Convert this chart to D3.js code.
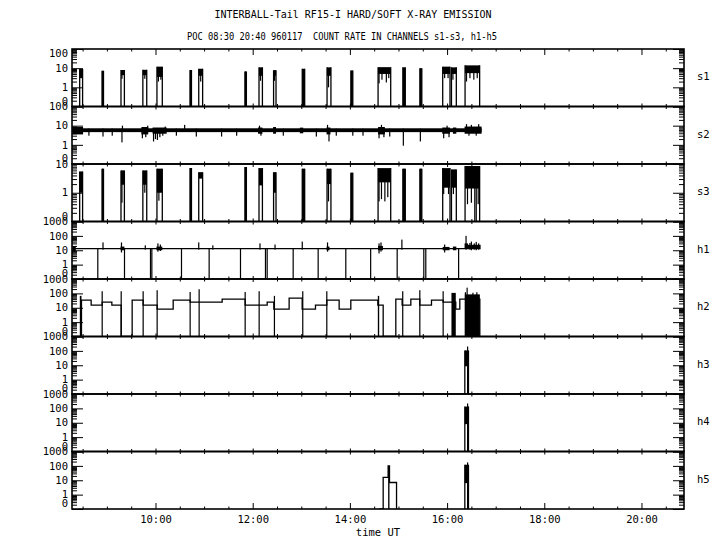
<!DOCTYPE html>
<html>
<head>
<meta charset="utf-8">
<script src="https://cdn.jsdelivr.net/npm/d3@7"></script>
<style>
body { margin: 0; background: #fff; }
text { font-family: "DejaVu Sans Mono", "Liberation Mono", monospace; fill: #000; }
</style>
</head>
<body>
<svg id="chart"></svg>
<script>
var panelNames = ["s1", "s2", "s3", "h1", "h2", "h3", "h4", "h5"];
var panelTops = [100, 100, 10, 1000, 1000, 1000, 1000, 1000];
var xDomain = [8.282, 20.875];
var majorHours = [10, 12, 14, 16, 18, 20];
var majorLabels = ["10:00", "12:00", "14:00", "16:00", "18:00", "20:00"];

// burst windows (hours UT), shared by s1 and s3; low = bottom of the dense part
var burstStart = [8.44, 8.90, 9.29, 9.74, 10.03, 10.71, 10.89, 11.84, 12.13, 12.43, 13.02, 13.53, 14.02, 14.58, 15.09, 15.44, 15.91, 16.09, 16.37];
var burstEnd   = [8.50, 8.93, 9.36, 9.82, 10.14, 10.74, 10.97, 11.87, 12.20, 12.48, 13.07, 13.61, 14.06, 14.84, 15.14, 15.48, 16.06, 16.19, 16.67];
var s1Low  = [3, 0, 4.3, 4.3, 3.5, 0, 4, 0, 4, 4, 0, 4, 0, 5, 0, 0, 5, 5, 5.5];
var s1High = [9, 7.3, 8, 8.2, 12, 8, 9.3, 6.8, 11, 7.9, 9.3, 11, 7.6, 11.3, 11, 10, 12, 11, 14];
var s1Dips = [
  [9.31, 2.8, 6], [9.78, 2.8, 6], [10.06, 2, 6], [10.11, 2.5, 6], [10.93, 2, 6], [12.16, 2.2, 6],
  [12.45, 2.2, 6], [13.56, 1, 6], [14.60, 1.6, 7], [14.66, 2.5, 7], [14.75, 1.8, 7], [14.80, 3, 7],
  [15.95, 3, 7], [16.02, 3, 7], [16.12, 2.5, 7], [16.40, 2, 8], [16.47, 3, 8], [16.55, 2.5, 8], [16.62, 3, 8]
];
var s3Low  = [1, 0, 1.9, 1.9, 1, 0, 3.1, 0, 1.8, 1, 0, 2, 0, 2.3, 0, 0, 1.5, 1.5, 1.4];
var s3High = [5.5, 6.9, 6, 6, 6.9, 7.2, 5.2, 7.8, 7.2, 5.2, 6.9, 6.9, 5, 7.2, 6.9, 6.9, 7.2, 6.5, 8.5];
var s3Dips = [
  [9.31, 0.45, 3], [9.78, 1, 3], [10.07, 0.53, 3], [13.56, 0.5, 3], [14.60, 0.5, 3], [14.65, 0.6, 3],
  [14.72, 0.5, 3], [14.78, 0.7, 3], [15.93, 0.9, 3], [16.03, 0.9, 3], [16.13, 0.9, 3], [16.42, 0.4, 3],
  [16.50, 0.45, 3], [16.57, 0, 3], [16.60, 0, 3], [16.64, 0.4, 3]
];

// s2: steady band plus excursions [t0, t1, low, high]
var s2Band = [8.30, 16.71, 4.6, 7.3];
var s2Noise = [
  [8.29, 8.51, 3.5, 8.5], [8.63, 8.63, 3, 7], [8.92, 8.92, 2.7, 7], [9.11, 9.11, 3, 7],
  [9.31, 9.31, 1.35, 7], [9.32, 9.32, 4.8, 10], [9.71, 9.85, 3.5, 8.5], [9.73, 9.73, 2.2, 7],
  [9.80, 9.80, 2.5, 7], [9.84, 9.84, 4.8, 10], [9.94, 10.23, 3.8, 8], [9.96, 9.96, 1.5, 7],
  [10.00, 10.00, 2, 7], [10.04, 10.04, 1.8, 7], [10.09, 10.09, 2.5, 7], [10.15, 10.15, 3, 7],
  [10.20, 10.20, 4.8, 9], [10.43, 10.43, 3, 7], [10.60, 10.60, 4.8, 11], [10.84, 10.84, 2.7, 7],
  [11.36, 11.36, 2.7, 7], [11.67, 11.67, 3, 7], [12.11, 12.20, 3.8, 8], [12.14, 12.14, 4.8, 10],
  [12.17, 12.17, 3, 7], [12.42, 12.48, 3.8, 8.5], [12.63, 12.63, 3, 7], [12.97, 13.04, 4, 7.9],
  [13.31, 13.31, 2.7, 7], [13.52, 13.60, 3.5, 8], [13.54, 13.54, 4.8, 11], [13.57, 13.57, 1.5, 7],
  [13.72, 13.72, 3, 7], [14.06, 14.06, 3, 7], [14.27, 14.27, 3, 7], [14.58, 14.72, 3.5, 8.5],
  [14.60, 14.60, 2.2, 7], [14.65, 14.65, 4.8, 11], [14.70, 14.70, 2.5, 7], [14.82, 14.82, 2.7, 7],
  [15.10, 15.10, 0.9, 7], [15.45, 15.45, 1.5, 7], [15.90, 16.06, 3.8, 8], [15.93, 15.93, 2.2, 7],
  [16.00, 16.00, 4.8, 10], [16.04, 16.04, 2.5, 7], [16.12, 16.19, 3.8, 8], [16.36, 16.71, 3.8, 9],
  [16.40, 16.40, 4.8, 12], [16.45, 16.45, 3, 7], [16.50, 16.50, 4.8, 11], [16.60, 16.60, 3, 7],
  [16.65, 16.65, 4.8, 12]
];

// h1: flat level, dropouts to zero [t0, t1, level], noise [t0, t1, low, high]
var h1Times = [8.29, 16.69];
var h1Values = [13, 13];
var h1Drops = [
  [8.813, 8.813, 13], [9.35, 9.365, 13], [9.897, 9.897, 13], [9.925, 9.925, 13], [10.535, 10.535, 13],
  [11.104, 11.104, 13], [11.749, 11.749, 13], [12.263, 12.263, 13], [12.298, 12.298, 13], [12.833, 12.833, 13],
  [13.347, 13.347, 13], [13.916, 13.916, 13], [14.415, 14.435, 13], [14.973, 14.973, 13], [15.521, 15.521, 13],
  [15.562, 15.562, 13], [16.225, 16.245, 13]
];
var h1Noise = [
  [8.29, 8.36, 9, 19], [8.92, 8.92, 11, 35], [9.28, 9.36, 10, 18], [9.30, 9.30, 7, 35],
  [9.79, 9.79, 11, 22], [10.02, 10.14, 10, 18], [10.05, 10.05, 8, 30], [10.10, 10.10, 9, 25],
  [10.89, 10.89, 11, 35], [11.18, 11.18, 11, 22], [12.15, 12.15, 11, 30], [12.46, 12.46, 11, 25],
  [13.02, 13.02, 11, 40], [13.52, 13.58, 10, 18], [13.54, 13.54, 8, 35], [14.58, 14.68, 10, 20],
  [14.60, 14.60, 6, 30], [14.64, 14.64, 8, 35], [15.07, 15.07, 11, 55], [15.91, 16.05, 10, 17],
  [15.95, 15.95, 7, 25], [16.12, 16.19, 10, 18], [16.36, 16.43, 14, 30], [16.39, 16.39, 11, 100],
  [16.43, 16.69, 14, 24], [16.47, 16.47, 11, 32], [16.50, 16.50, 10, 40], [16.56, 16.56, 11, 30],
  [16.60, 16.60, 10, 38], [16.65, 16.65, 11, 30]
];

// h2: step levels, spikes [t0, t1, high], dense blocks [t0, t1, low, high]
var h2Times = [8.282, 8.477, 8.676, 8.903, 9.102, 9.294, 9.52, 9.746, 10.034, 10.364, 10.713, 11.372, 11.845,
  12.298, 12.435, 12.75, 13.018, 13.292, 13.525, 13.779, 14.019, 14.575, 14.685, 14.945, 15.075, 15.254,
  15.439, 15.679, 15.919, 16.179, 16.262, 16.674];
var h2Values = [0, 34, 15, 24.5, 15, 0, 34, 15, 8, 34, 24.5, 40, 15,
  24.5, 8, 46, 8, 15, 34, 8, 34, 15, 0, 40, 15, 40,
  15, 34, 24.5, 8, 40, 0];
var h2Spikes = [
  [8.443, 8.477, 67], [8.903, 8.903, 141], [9.294, 9.294, 141], [9.746, 9.746, 141], [10.034, 10.034, 166],
  [10.713, 10.713, 126], [10.898, 10.898, 194], [11.845, 11.845, 126], [12.133, 12.133, 141], [12.435, 12.455, 67],
  [13.018, 13.038, 141], [13.525, 13.525, 141], [14.575, 14.603, 67], [15.075, 15.096, 141], [15.439, 15.439, 166],
  [15.919, 15.919, 141], [16.365, 16.375, 120], [16.40, 16.41, 250], [16.52, 16.53, 110], [16.60, 16.61, 120]
];
var h2Blocks = [[16.09, 16.179, 0, 108], [16.365, 16.674, 0, 85]];

// h3-h5 bursts [t0, t1, low, high] and spikes [t0, t1, high]
var h3Bursts = [[16.365, 16.44, 8.5, 108]];
var h3Spikes = [[16.41, 16.42, 200]];
var h4Bursts = [[16.365, 16.44, 8, 133]];
var h4Spikes = [[16.41, 16.42, 220]];
var h5Times = [14.60, 14.685, 14.787, 14.815, 14.96];
var h5Values = [0, 16, 100, 7, 0];
var h5Spikes = [[14.787, 14.815, 100], [16.41, 16.42, 175]];
var h5Bursts = [[16.365, 16.44, 6.3, 120]];

var W = 720, H = 550;
var left = 72, right = 684, top0 = 49, panelH = 57.5;

var svg = d3.select("#chart").attr("width", W).attr("height", H);

var x = d3.scaleLinear().domain(xDomain).range([left, right]);

function zipBursts(t0, t1, lo, hi) {
  return t0.map(function (d, i) { return [d, t1[i], lo[i], hi[i]]; });
}
function dipFills(dips) {
  return dips.map(function (d) { return [d[0], d[0], d[1], d[2]]; });
}

var panelData = [
  { bursts: zipBursts(burstStart, burstEnd, s1Low, s1High), fills: dipFills(s1Dips) },
  { fills: [s2Band].concat(s2Noise) },
  { bursts: zipBursts(burstStart, burstEnd, s3Low, s3High), fills: dipFills(s3Dips) },
  { steps: [h1Times, h1Values], spikes: h1Drops, fills: h1Noise },
  { steps: [h2Times, h2Values], spikes: h2Spikes, fills: h2Blocks },
  { bursts: h3Bursts, spikes: h3Spikes },
  { bursts: h4Bursts, spikes: h4Spikes },
  { steps: [h5Times, h5Values], spikes: h5Spikes, bursts: h5Bursts }
];

svg.append("text").attr("x", 353).attr("y", 18).attr("text-anchor", "middle")
  .style("font-size", "10.5px")
  .attr("textLength", 277).attr("lengthAdjust", "spacingAndGlyphs")
  .text("INTERBALL-Tail RF15-I HARD/SOFT X-RAY EMISSION");
svg.append("text").attr("x", 342).attr("y", 40).attr("text-anchor", "middle")
  .style("font-size", "10.5px").attr("xml:space", "preserve")
  .attr("textLength", 310).attr("lengthAdjust", "spacingAndGlyphs")
  .text("POC 08:30 20:40 960117  COUNT RATE IN CHANNELS s1-s3, h1-h5");

var minorHours = d3.range(8.5, 21, 0.5).filter(function (h) { return h % 2 !== 0; });

panelNames.forEach(function (name, i) {
  var pt = top0 + i * panelH, pb = pt + panelH;
  var y = d3.scaleLog().domain([0.1, panelTops[i]]).range([pb, pt]).clamp(true);
  function yv(v) { return y(Math.max(v, 0.1)); }
  function px0(d) { return x(d[0]) - (d[1] === d[0] ? 0.6 : 0); }
  function pw(d) { return Math.max(x(d[1]) - x(d[0]), 1.2); }

  svg.append("clipPath").attr("id", "clip" + i)
    .append("rect").attr("x", left).attr("y", pt).attr("width", right - left).attr("height", panelH);

  var g = svg.append("g").attr("clip-path", "url(#clip" + i + ")");
  var pd = panelData[i];

  if (pd.steps) {
    var pts = pd.steps[0].map(function (t, k) { return [t, pd.steps[1][k]]; });
    g.append("path").datum(pts)
      .attr("fill", "none").attr("stroke", "#000").attr("stroke-width", 1.3)
      .attr("d", d3.line().curve(d3.curveStepAfter)
        .x(function (d) { return x(d[0]); })
        .y(function (d) { return yv(d[1]); }));
  }

  if (pd.bursts) {
    var b = g.selectAll("g.burst").data(pd.bursts).enter().append("g").attr("class", "burst");
    b.append("rect")
      .attr("x", px0).attr("width", pw)
      .attr("y", function (d) { return yv(d[3]); })
      .attr("height", function (d) { return yv(d[2]) - yv(d[3]); })
      .attr("fill", "#000");
    [0, 1].forEach(function (k) {
      b.append("line")
        .attr("x1", function (d) { return x(d[k]); })
        .attr("x2", function (d) { return x(d[k]); })
        .attr("y1", pb)
        .attr("y2", function (d) { return yv(d[3]); })
        .attr("stroke", "#000").attr("stroke-width", 1.3);
    });
  }

  if (pd.fills) {
    g.selectAll("rect.fill").data(pd.fills).enter().append("rect")
      .attr("class", "fill")
      .attr("x", px0).attr("width", pw)
      .attr("y", function (d) { return yv(d[3]); })
      .attr("height", function (d) { return yv(d[2]) - yv(d[3]); })
      .attr("fill", "#000");
  }

  if (pd.spikes) {
    g.selectAll("rect.spike").data(pd.spikes).enter().append("rect")
      .attr("class", "spike")
      .attr("x", px0).attr("width", pw)
      .attr("y", function (d) { return yv(d[2]); })
      .attr("height", function (d) { return pb - yv(d[2]); })
      .attr("fill", "#000");
  }

  // frame
  svg.append("rect").attr("x", left).attr("y", pt).attr("width", right - left).attr("height", panelH)
    .attr("fill", "none").attr("stroke", "#000").attr("stroke-width", 1.6);

  // time ticks, pointing inward on both edges
  var outerTop = i === 0, outerBottom = i === panelNames.length - 1;
  svg.append("g").attr("transform", "translate(0," + pt + ")")
    .call(d3.axisTop(x).tickValues(majorHours).tickSize(outerTop ? -6 : -3).tickFormat(""));
  svg.append("g").attr("transform", "translate(0," + pt + ")")
    .call(d3.axisTop(x).tickValues(minorHours).tickSize(-2.5).tickFormat(""));
  svg.append("g").attr("transform", "translate(0," + pb + ")")
    .call(d3.axisBottom(x).tickValues(majorHours).tickSize(outerBottom ? -6 : -3).tickFormat(""));
  svg.append("g").attr("transform", "translate(0," + pb + ")")
    .call(d3.axisBottom(x).tickValues(minorHours).tickSize(-2.5).tickFormat(""));

  // log ticks on both sides
  var all = y.ticks();
  var decades = all.filter(function (v) { return Math.abs(Math.log10(v) - Math.round(Math.log10(v))) < 1e-6; });
  var minors = all.filter(function (v) { return decades.indexOf(v) < 0; });
  svg.append("g").attr("transform", "translate(" + left + ",0)")
    .call(d3.axisLeft(y).tickValues(decades).tickSize(-11).tickFormat(""));
  svg.append("g").attr("transform", "translate(" + left + ",0)")
    .call(d3.axisLeft(y).tickValues(minors).tickSize(-5).tickFormat(""));
  svg.append("g").attr("transform", "translate(" + right + ",0)")
    .call(d3.axisRight(y).tickValues(decades).tickSize(-11).tickFormat(""));
  svg.append("g").attr("transform", "translate(" + right + ",0)")
    .call(d3.axisRight(y).tickValues(minors).tickSize(-5).tickFormat(""));

  svg.selectAll(".domain").remove();

  // decade labels
  svg.selectAll(null).data(decades).enter().append("text")
    .attr("x", 68)
    .attr("y", function (v) {
      if (v === 0.1) return pb - 5.5;
      if (v === panelTops[i] && i === 0) return pt + 4;
      return y(v);
    })
    .attr("dy", "0.35em")
    .attr("text-anchor", "end")
    .style("font-size", "10.5px")
    .text(function (v) { return v === 0.1 ? "0" : String(v); });

  svg.append("text").attr("x", 697).attr("y", (pt + pb) / 2 - 1).attr("dy", "0.35em")
    .style("font-size", "10.5px").text(name);
});

var bottom = top0 + panelNames.length * panelH;
var xAxis = svg.append("g").attr("transform", "translate(0," + bottom + ")")
  .call(d3.axisBottom(x).tickValues(majorHours).tickSize(0).tickPadding(7)
    .tickFormat(function (d, k) { return majorLabels[k]; }));
xAxis.select(".domain").remove();
xAxis.selectAll("text").style("font-size", "10.5px");
xAxis.attr("font-family", null).attr("font-size", null);

svg.append("text").attr("x", 378).attr("y", 536).attr("text-anchor", "middle")
  .style("font-size", "10.5px").text("time UT");
</script>
</body>
</html>
